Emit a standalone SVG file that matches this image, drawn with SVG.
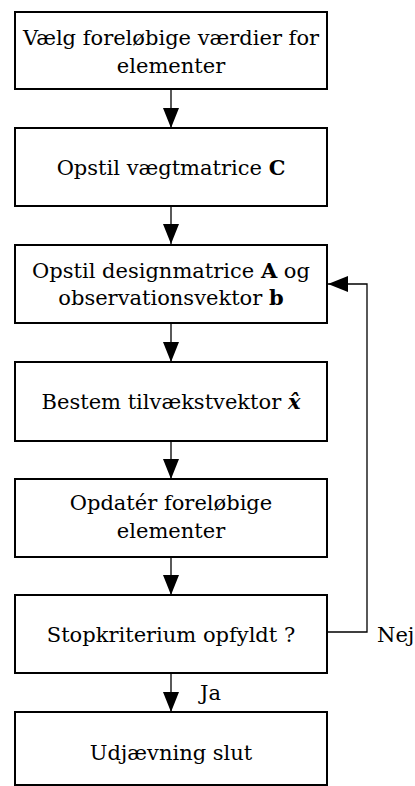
<svg xmlns="http://www.w3.org/2000/svg" width="415" height="786" viewBox="0 0 415 786">
<style>
.box{fill:#fff;stroke:#000;stroke-width:2}
.t{font-family:"DejaVu Serif","Liberation Serif",serif;font-size:21px;fill:#000;text-anchor:middle}
.l{font-family:"DejaVu Serif","Liberation Serif",serif;font-size:21px;fill:#000}
.c{fill:none;stroke:#000;stroke-width:1.3}
</style>
<defs>
<marker id="ah" viewBox="0 0 20 16" refX="20" refY="8" markerWidth="20" markerHeight="16" markerUnits="userSpaceOnUse" orient="auto">
<path d="M0,0 L20,8 L0,16 Z" fill="#000"/>
</marker>
</defs>
<g id="connectors">
<line class="c" x1="171" y1="89" x2="171" y2="128" marker-end="url(#ah)"/>
<line class="c" x1="171" y1="206" x2="171" y2="244" marker-end="url(#ah)"/>
<line class="c" x1="171" y1="323" x2="171" y2="362" marker-end="url(#ah)"/>
<line class="c" x1="171" y1="441" x2="171" y2="479" marker-end="url(#ah)"/>
<line class="c" x1="171" y1="557" x2="171" y2="595" marker-end="url(#ah)"/>
<line class="c" x1="171" y1="673" x2="171" y2="712" marker-end="url(#ah)"/>
<polyline class="c" points="327,632 367,632 367,284 328,284" marker-end="url(#ah)"/>
<text class="l" x="377" y="642">Nej</text>
<text class="l" x="200" y="700">Ja</text>
</g>
<g id="n1">
<rect class="box" x="15" y="12" width="312" height="77"/>
<text class="t" x="171" y="45">Vælg foreløbige værdier for</text>
<text class="t" x="171" y="73">elementer</text>
</g>
<g id="n2">
<rect class="box" x="15" y="128" width="312" height="78"/>
<text class="t" x="171" y="175">Opstil vægtmatrice <tspan font-weight="bold">C</tspan></text>
</g>
<g id="n3">
<rect class="box" x="15" y="245" width="312" height="78"/>
<text class="t" x="171" y="278">Opstil designmatrice <tspan font-weight="bold">A</tspan> og</text>
<text class="t" x="171" y="305">observationsvektor <tspan font-weight="bold">b</tspan></text>
</g>
<g id="n4">
<rect class="box" x="15" y="362" width="312" height="79"/>
<text class="t" x="171" y="409">Bestem tilvækstvektor  <tspan font-weight="bold" font-style="italic">x̂</tspan></text>
</g>
<g id="n5">
<rect class="box" x="15" y="479" width="312" height="78"/>
<text class="t" x="171" y="510">Opdatér foreløbige</text>
<text class="t" x="171" y="538">elementer</text>
</g>
<g id="n6">
<rect class="box" x="15" y="595" width="312" height="78"/>
<text class="t" x="171" y="642">Stopkriterium opfyldt ?</text>
</g>
<g id="n7">
<rect class="box" x="15" y="712" width="312" height="73"/>
<text class="t" x="171" y="760">Udjævning slut</text>
</g>
</svg>
